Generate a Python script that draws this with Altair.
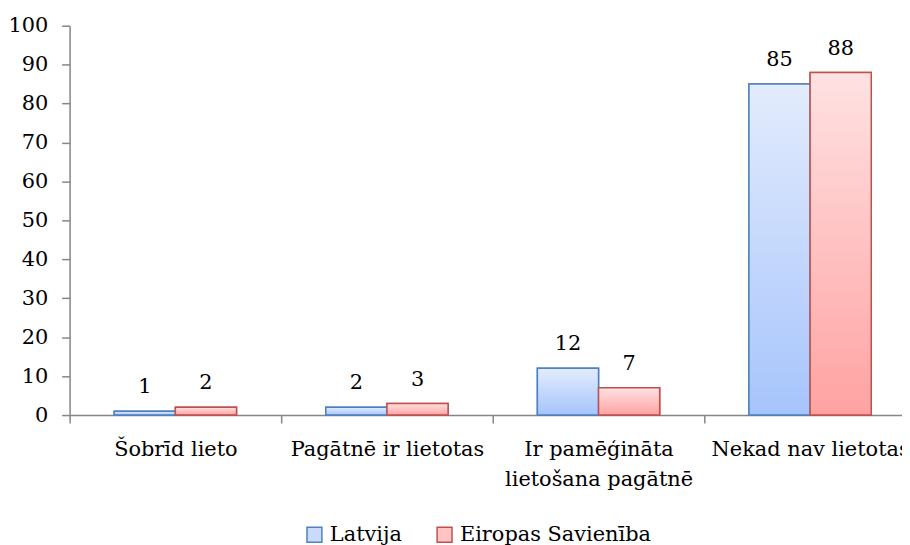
import altair as alt
import pandas as pd

categories = ["Šobrīd lieto", "Pagātnē ir lietotas", "Ir pamēģināta\nlietošana pagātnē", "Nekad nav lietotas"]
series = ["Latvija", "Eiropas Savienība"]
latvija = [1, 2, 12, 85]
eiropa = [2, 3, 7, 88]

rows = []
for c, v in zip(categories, latvija):
    rows.append({"cat": c, "series": series[0], "value": v})
for c, v in zip(categories, eiropa):
    rows.append({"cat": c, "series": series[1], "value": v})
df = pd.DataFrame(rows)

FONT = "DejaVu Serif"
blue_stroke = "#4f81bd"
red_stroke = "#c0504d"
grad_blue = {"gradient": "linear", "x1": 0, "y1": 0, "x2": 0, "y2": 1,
             "stops": [{"offset": 0, "color": "#e3ecfd"}, {"offset": 1, "color": "#a6c4fc"}]}
grad_red = {"gradient": "linear", "x1": 0, "y1": 0, "x2": 0, "y2": 1,
            "stops": [{"offset": 0, "color": "#ffe2e2"}, {"offset": 1, "color": "#ffa2a2"}]}

x_enc = alt.X("cat:N", sort=categories, title=None,
              scale=alt.Scale(range=[0, 852], paddingInner=0, paddingOuter=0),
              axis=alt.Axis(labelExpr="split(datum.label, '\\n')", labelAngle=0,
                            tickBand="extent", tickSize=8, labelPadding=16,
                            labelFont=FONT, labelFontSize=21, labelColor="black",
                            labelLineHeight=30, labelLimit=0,
                            domainColor="#868686", tickColor="#868686",
                            domainWidth=1.5, tickWidth=1.5))
xo_enc = alt.XOffset("series:N", sort=series,
                     scale=alt.Scale(paddingInner=0, paddingOuter=0.73))
y_enc = alt.Y("value:Q", title=None,
              scale=alt.Scale(domain=[0, 100], nice=False),
              axis=alt.Axis(values=list(range(0, 101, 10)), tickSize=8, labelPadding=14,
                            labelFont=FONT, labelFontSize=21, labelColor="black",
                            domainColor="#868686", tickColor="#868686",
                            domainWidth=1.5, tickWidth=1.5, grid=False))

base = alt.Chart(df)

legend_layer = base.mark_bar(strokeWidth=1.5).encode(
    x=x_enc, xOffset=xo_enc, y=y_enc,
    fill=alt.Fill("series:N", sort=series,
                  scale=alt.Scale(domain=series, range=["#c9dafc", "#ffc4c4"]),
                  legend=alt.Legend(title=None, orient="none", direction="horizontal",
                                    legendX=236, legendY=502,
                                    symbolType="square", symbolSize=225,
                                    symbolStrokeWidth=1.5,
                                    labelFont=FONT, labelFontSize=21, labelColor="black",
                                    labelOffset=5, columnPadding=32, labelLimit=0)),
    stroke=alt.Stroke("series:N", sort=series,
                      scale=alt.Scale(domain=series, range=[blue_stroke, red_stroke]),
                      legend=None),
)

blue_layer = base.transform_filter(alt.datum.series == series[0]).mark_bar(
    fill=grad_blue, stroke=blue_stroke, strokeWidth=1.5
).encode(x=x_enc, xOffset=xo_enc, y=y_enc)

red_layer = base.transform_filter(alt.datum.series == series[1]).mark_bar(
    fill=grad_red, stroke=red_stroke, strokeWidth=1.5
).encode(x=x_enc, xOffset=xo_enc, y=y_enc)

text_layer = base.mark_text(font=FONT, fontSize=21, color="black",
                            baseline="alphabetic", dy=-18).encode(
    x=x_enc, xOffset=xo_enc, y=y_enc, text="value:Q")

chart = alt.layer(legend_layer, blue_layer, red_layer, text_layer).properties(
    width=838, height=392,
    autosize=alt.AutoSizeParams(type="none"),
    padding={"left": 62, "top": 16, "right": 0, "bottom": 129},
).configure_view(stroke=None)

chart.save("out.html", embed_options={"renderer": "svg", "actions": False})
